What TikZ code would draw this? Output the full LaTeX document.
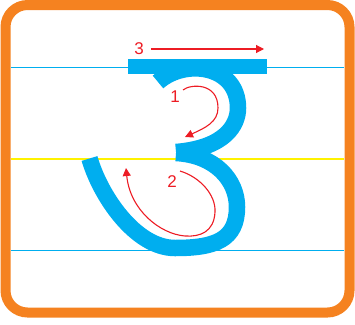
\documentclass[tikz,border=0pt]{standalone}
\usepackage{fontspec}
\setmainfont{Liberation Sans}
\usetikzlibrary{arrows.meta}
\definecolor{trazo}{HTML}{00AEEF}
\definecolor{marco}{HTML}{F58220}
\definecolor{guia}{HTML}{FFF200}
\definecolor{flecha}{HTML}{ED1C24}

\begin{document}
\begin{tikzpicture}[x=1pt, y=-1pt]
  \tikzset{
    guide_line/.style={draw=trazo, line width=1.8pt},
    mid_line/.style={draw=guia, line width=1.8pt},
    letter_stroke/.style={draw=trazo, line width=16.5pt, line cap=butt},
    red_arrow/.style={draw=flecha, line width=1.1pt, -{Triangle[length=8pt, width=8pt]}},
    step_label/.style={text=flecha, font=\fontsize{17}{17}\selectfont, inner sep=0pt}
  }

  \useasboundingbox (0,0) rectangle (355,324);

  % Líneas guía
  \draw[guide_line] (11,67.5) -- (344,67.5);
  \draw[mid_line] (11,159) -- (344,159);
  \draw[guide_line] (11,250.5) -- (344,250.5);

  % Curva superior
  \draw[letter_stroke] (158,82) .. controls (185,58) and (238,65) .. (238,108)
    .. controls (238,125) and (225,148) .. (176,152);
  % Curva inferior
  \draw[letter_stroke] (176,153) .. controls (215,155) and (237,180) .. (237,207)
    .. controls (237,240) and (215,248) .. (175,248)
    .. controls (135,248) and (100,195) .. (89.5,158.5);

  % Barra superior
  \fill[trazo] (128,59) rectangle (267,74);

  % Números del orden de trazo
  \node[step_label] (n3) at (139,49) {3};
  \node[step_label] (n1) at (175,97) {1};
  \node[step_label] (n2) at (172,182) {2};

  % Extremos de las flechas
  \coordinate (a3_end) at (264,49);
  \coordinate (a1_start) at (183,90);
  \coordinate (a1_end) at (185,137);
  \coordinate (a2_start) at (180,171);
  \coordinate (a2_end) at (126,168);

  % Flechas
  \draw[red_arrow] ([xshift=7pt]n3.east) -- (a3_end);
  \draw[red_arrow] (a1_start) .. controls (190,84) and (218,82) .. (218,108)
    .. controls (218,122) and (205,128) .. (a1_end);
  \draw[red_arrow] (a2_start) .. controls (200,177) and (216,195) .. (215,212)
    .. controls (214,232) and (200,237) .. (185,236)
    .. controls (160,234) and (130,210) .. (a2_end);

  % Marco
  \draw[draw=marco, line width=10pt, rounded corners=22pt] (5.5,5) rectangle (349.5,312.5);
\end{tikzpicture}
\end{document}
